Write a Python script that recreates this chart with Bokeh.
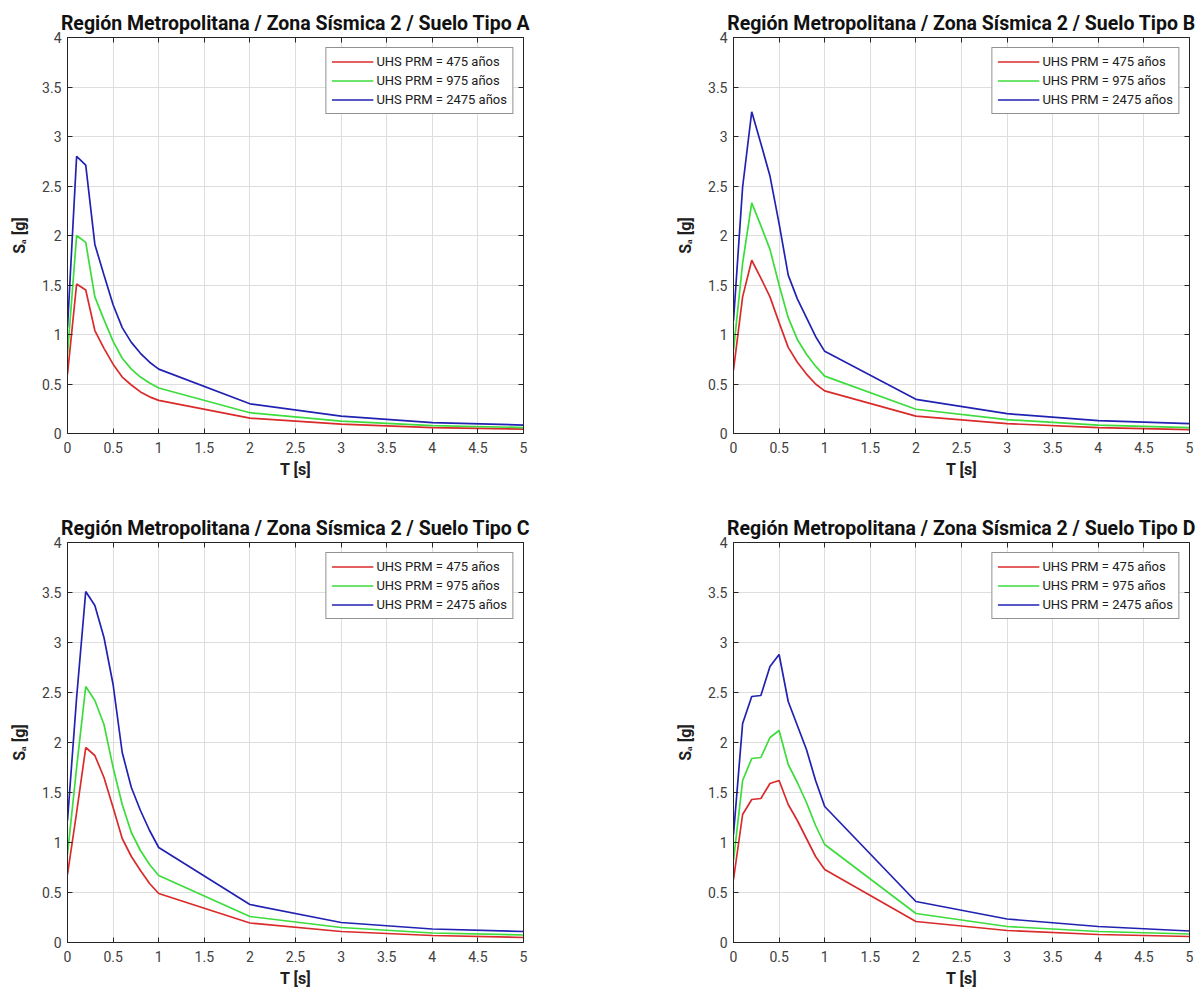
from bokeh.plotting import figure
from bokeh.layouts import column, row
from bokeh.models import Range1d, FixedTicker, LinearAxis
from bokeh.embed import file_html
from bokeh.resources import INLINE

# ---------------- data ----------------
T = [0, 0.1, 0.2, 0.3, 0.4, 0.5, 0.6, 0.7, 0.8, 0.9, 1.0, 2.0, 3.0, 4.0, 5.0]

A_475 = [0.60, 1.51, 1.45, 1.04, 0.86, 0.70, 0.57, 0.49, 0.42, 0.37, 0.335, 0.155, 0.095, 0.06, 0.045]
A_975 = [0.80, 2.00, 1.93, 1.38, 1.15, 0.93, 0.76, 0.65, 0.57, 0.51, 0.46, 0.21, 0.125, 0.08, 0.06]
A_2475 = [1.07, 2.80, 2.71, 1.91, 1.60, 1.30, 1.07, 0.92, 0.81, 0.72, 0.65, 0.30, 0.175, 0.11, 0.085]

B_475 = [0.64, 1.38, 1.75, 1.57, 1.38, 1.12, 0.87, 0.72, 0.60, 0.50, 0.43, 0.175, 0.10, 0.06, 0.04]
B_975 = [0.84, 1.72, 2.33, 2.10, 1.86, 1.50, 1.17, 0.95, 0.80, 0.68, 0.58, 0.245, 0.14, 0.085, 0.06]
B_2475 = [1.14, 2.49, 3.25, 2.93, 2.60, 2.12, 1.60, 1.36, 1.17, 0.98, 0.83, 0.345, 0.20, 0.13, 0.10]

C_475 = [0.68, 1.30, 1.95, 1.87, 1.65, 1.35, 1.04, 0.86, 0.72, 0.59, 0.49, 0.195, 0.11, 0.07, 0.05]
C_975 = [0.88, 1.75, 2.56, 2.42, 2.18, 1.75, 1.38, 1.10, 0.92, 0.78, 0.67, 0.26, 0.15, 0.095, 0.075]
C_2475 = [1.22, 2.45, 3.51, 3.37, 3.05, 2.58, 1.90, 1.55, 1.32, 1.12, 0.95, 0.38, 0.20, 0.135, 0.11]

D_475 = [0.63, 1.28, 1.43, 1.44, 1.59, 1.62, 1.38, 1.22, 1.04, 0.86, 0.73, 0.21, 0.12, 0.08, 0.06]
D_975 = [0.82, 1.62, 1.84, 1.85, 2.05, 2.12, 1.78, 1.60, 1.40, 1.17, 0.98, 0.29, 0.16, 0.11, 0.085]
D_2475 = [1.08, 2.19, 2.46, 2.47, 2.76, 2.88, 2.41, 2.17, 1.93, 1.62, 1.36, 0.41, 0.235, 0.16, 0.115]

series_labels = ["UHS PRM = 475 años", "UHS PRM = 975 años", "UHS PRM = 2475 años"]
titles = [
    "Región Metropolitana / Zona Sísmica 2 / Suelo Tipo A",
    "Región Metropolitana / Zona Sísmica 2 / Suelo Tipo B",
    "Región Metropolitana / Zona Sísmica 2 / Suelo Tipo C",
    "Región Metropolitana / Zona Sísmica 2 / Suelo Tipo D",
]
x_ticks = [0, 0.5, 1, 1.5, 2, 2.5, 3, 3.5, 4, 4.5, 5]
x_tick_labels = ["0", "0.5", "1", "1.5", "2", "2.5", "3", "3.5", "4", "4.5", "5"]
y_ticks = [0, 0.5, 1, 1.5, 2, 2.5, 3, 3.5, 4]
y_tick_labels = ["0", "0.5", "1", "1.5", "2", "2.5", "3", "3.5", "4"]

# ---------------- style ----------------
FONT = "Roboto"
COLORS = ["#d92b2b", "#3cdc3c", "#2222b2"]
AX = "#262626"
TICK_TXT = "#404040"


def make_panel(title, ys, width, height, bl, br, bt, bb):
    p = figure(width=width, height=height, output_backend="svg", toolbar_location=None,
               x_range=Range1d(0, 5), y_range=Range1d(0, 4),
               min_border_left=bl, min_border_right=br, min_border_top=bt, min_border_bottom=bb,
               background_fill_color="white", border_fill_color="white")
    p.outline_line_color = AX
    p.outline_line_width = 1
    p.outline_line_alpha = 1

    p.title.text = title
    p.title.align = "center"
    p.title.text_font = FONT
    p.title.text_font_style = "bold"
    p.title.text_font_size = "19.5px"
    p.title.text_color = "#111111"
    p.title.standoff = 6

    for ax in (p.xaxis[0], p.yaxis[0]):
        ax.axis_line_color = AX
        ax.major_tick_line_color = AX
        ax.major_tick_in = 5
        ax.major_tick_out = 0
        ax.minor_tick_line_color = None
        ax.major_label_text_font = FONT
        ax.major_label_text_font_size = "14px"
        ax.major_label_text_color = TICK_TXT
        ax.axis_label_text_font = FONT
        ax.axis_label_text_font_style = "bold"
        ax.axis_label_text_font_size = "16px"
        ax.axis_label_text_color = "#202020"

    p.xaxis.ticker = FixedTicker(ticks=x_ticks)
    p.yaxis.ticker = FixedTicker(ticks=y_ticks)
    p.xaxis.major_label_overrides = dict(zip(x_ticks, x_tick_labels))
    p.yaxis.major_label_overrides = dict(zip(y_ticks, y_tick_labels))
    p.xaxis.major_label_standoff = 8
    p.yaxis.major_label_standoff = 6
    p.xaxis.axis_label = "T [s]"
    p.xaxis.axis_label_standoff = 4
    p.yaxis.axis_label = "Sₐ [g]"
    p.yaxis.axis_label_standoff = 10

    # box ticks on top / right
    for side in ("above", "right"):
        a = LinearAxis(ticker=FixedTicker(ticks=x_ticks if side == "above" else y_ticks))
        a.major_tick_in = 5
        a.major_tick_out = 0
        a.minor_tick_line_color = None
        a.major_tick_line_color = AX
        a.axis_line_color = AX
        a.major_label_text_font_size = "0px"
        a.major_label_standoff = 0
        a.major_label_text_alpha = 0
        p.add_layout(a, side)

    p.xgrid.ticker = FixedTicker(ticks=x_ticks)
    p.ygrid.ticker = FixedTicker(ticks=y_ticks)
    p.xgrid.grid_line_color = "#dedede"
    p.ygrid.grid_line_color = "#dedede"

    for yv, c, lab in zip(ys, COLORS, series_labels):
        p.line(T, yv, line_color=c, line_width=1.7, legend_label=lab)

    lg = p.legend[0]
    lg.location = "top_right"
    lg.margin = 10
    lg.border_line_color = AX
    lg.border_line_width = 1
    lg.background_fill_color = "white"
    lg.background_fill_alpha = 1
    lg.label_text_font = FONT
    lg.label_text_font_size = "13px"
    lg.label_text_color = "#202020"
    lg.glyph_width = 42
    lg.glyph_height = 17
    lg.label_height = 17
    lg.label_standoff = 3
    lg.spacing = 2
    lg.padding = 5
    return p


pA = make_panel(titles[0], [A_475, A_975, A_2475], 600, 505, 67, 77, 37, 72)
pB = make_panel(titles[1], [B_475, B_975, B_2475], 601, 505, 133, 12, 37, 72)
pC = make_panel(titles[2], [C_475, C_975, C_2475], 600, 490, 67, 77, 37, 53)
pD = make_panel(titles[3], [D_475, D_975, D_2475], 601, 490, 133, 12, 37, 53)

layout = column(row(pA, pB), row(pC, pD))

with open("out.html", "w") as f:
    f.write(file_html(layout, INLINE))
